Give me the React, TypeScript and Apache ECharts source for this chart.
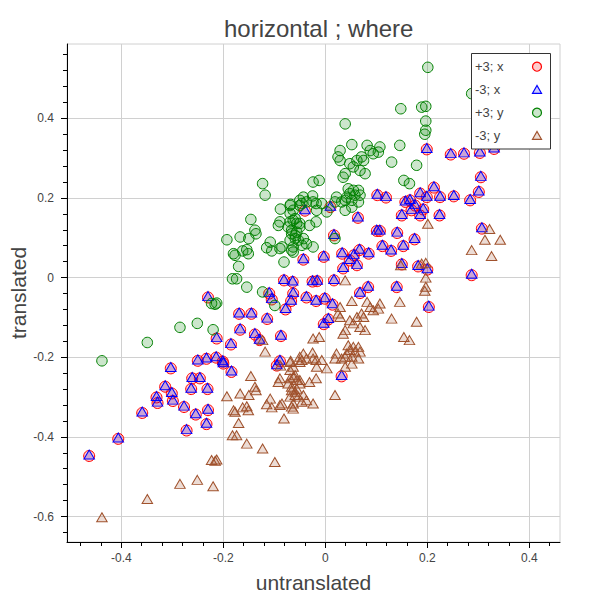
import React, { useEffect, useRef } from "react";
import * as echarts from "echarts";

const chartTitle = "horizontal ; where";
const xAxisName = "untranslated";
const yAxisName = "translated";
const seriesNames = ["+3; x", "-3; x", "+3; y", "-3; y"];

const xTickValues = [-0.4, -0.2, 0, 0.2, 0.4];
const xMinorTickValues = [-0.48, -0.44, -0.4, -0.36, -0.32, -0.28, -0.24, -0.2, -0.16, -0.12, -0.08, -0.04, 0, 0.04, 0.08, 0.12, 0.16, 0.2, 0.24, 0.28, 0.32, 0.36, 0.4, 0.44];
const yTickValues = [-0.6, -0.4, -0.2, 0, 0.2, 0.4];
const yMinorTickValues = [-0.64, -0.6, -0.56, -0.52, -0.48, -0.44, -0.4, -0.36, -0.32, -0.28, -0.24, -0.2, -0.16, -0.12, -0.08, -0.04, 0, 0.04, 0.08, 0.12, 0.16, 0.2, 0.24, 0.28, 0.32, 0.36, 0.4, 0.44, 0.48, 0.52, 0.56];

// shared by "+3; x" and "-3; x"
const xPoints = [
  [-0.463, -0.448], [-0.406, -0.405], [-0.359, -0.34], [-0.331, -0.301], [-0.329, -0.315],
  [-0.314, -0.274], [-0.303, -0.228], [-0.301, -0.291], [-0.299, -0.31], [-0.277, -0.325],
  [-0.272, -0.384], [-0.263, -0.28], [-0.261, -0.253], [-0.254, -0.344], [-0.246, -0.253],
  [-0.231, -0.28], [-0.23, -0.333], [-0.233, -0.368], [-0.25, -0.209], [-0.233, -0.204],
  [-0.214, -0.201], [-0.201, -0.211], [-0.2, -0.216], [-0.184, -0.237], [-0.23, -0.05],
  [-0.213, -0.153], [-0.185, -0.168], [-0.169, -0.091], [-0.145, -0.091], [-0.167, -0.131],
  [-0.138, -0.143], [-0.129, -0.157], [-0.114, -0.104], [-0.087, -0.147], [-0.089, -0.21],
  [-0.095, -0.221], [-0.078, -0.08], [-0.11, -0.04], [-0.105, -0.055], [-0.081, -0.007],
  [-0.064, -0.011], [-0.063, -0.04], [-0.067, -0.059], [-0.037, -0.05], [-0.025, -0.01],
  [-0.016, -0.009], [-0.018, -0.059], [-0.04, 0.168], [-0.043, 0.045], [-0.003, 0.052],
  [0.01, 0.177], [0.199, 0.322], [0.246, 0.309], [0.272, 0.311], [0.303, 0.313],
  [0.331, 0.323], [0.305, 0.252], [0.301, 0.215], [0.284, 0.194], [0.102, 0.207],
  [0.119, 0.201], [0.166, 0.194], [0.157, 0.19], [0.186, 0.211], [0.199, 0.202],
  [0.213, 0.226], [0.225, 0.202], [0.252, 0.204], [0.176, 0.181], [0.169, 0.169],
  [0.15, 0.156], [0.186, 0.156], [0.192, 0.171], [0.224, 0.156], [0.064, 0.15],
  [0.101, 0.117], [0.107, 0.117], [0.141, 0.112], [0.175, 0.096], [0.153, 0.079],
  [0.112, 0.079], [0.129, 0.067], [0.085, 0.06], [0.067, 0.069], [0.056, 0.056],
  [0.048, 0.043], [0.033, 0.06], [0.062, 0.031], [0.017, 0.106], [0.15, 0.033],
  [0.182, 0.028], [0.035, 0.023], [0.307, 0.123], [0.2, 0.02], [0.287, 0.006],
  [0.017, -0.007], [0.084, -0.024], [0.14, -0.024], [0.068, -0.039], [0.203, -0.074],
  [-0.001, -0.053], [0.014, -0.068], [0.006, -0.105], [-0.003, -0.117], [0.032, -0.248]
];

const plusYPoints = [
  [-0.438, -0.209], [-0.349, -0.163], [-0.285, -0.125], [-0.251, -0.115], [-0.22, -0.131],
  [-0.223, -0.065], [-0.216, -0.067], [-0.213, -0.064], [-0.182, -0.003], [-0.174, -0.003],
  [-0.154, -0.024], [-0.123, -0.036], [-0.099, -0.07], [-0.17, 0.028], [-0.081, 0.039],
  [-0.18, 0.06], [-0.177, 0.056], [-0.154, 0.07], [-0.151, 0.06], [-0.162, 0.067],
  [-0.108, 0.089], [-0.115, 0.075], [-0.105, 0.067], [-0.089, 0.073], [-0.193, 0.095],
  [-0.167, 0.102], [-0.15, 0.098], [-0.138, 0.119], [-0.136, 0.11], [-0.146, 0.146],
  [-0.123, 0.236], [-0.118, 0.207], [-0.088, 0.172], [-0.068, 0.184], [-0.05, 0.194],
  [-0.043, 0.202], [-0.046, 0.186], [-0.037, 0.19], [-0.025, 0.205], [-0.018, 0.186],
  [-0.012, 0.244], [-0.024, 0.24], [-0.069, 0.161], [-0.063, 0.144], [-0.073, 0.127],
  [-0.05, 0.136], [-0.056, 0.114], [-0.066, 0.11], [-0.069, 0.094], [-0.059, 0.098],
  [-0.046, 0.081], [-0.037, 0.085], [-0.063, 0.077], [-0.066, 0.069], [-0.085, 0.077],
  [-0.089, 0.14], [-0.092, 0.131], [-0.018, 0.14], [-0.024, 0.077], [-0.031, 0.131],
  [-0.069, 0.181], [-0.063, 0.169], [-0.059, 0.148], [-0.069, 0.14], [-0.056, 0.136],
  [-0.05, 0.127], [-0.066, 0.119], [-0.059, 0.106], [-0.053, 0.094], [-0.043, 0.098],
  [-0.063, 0.064], [-0.05, 0.181], [-0.024, 0.19], [-0.017, 0.169], [-0.007, 0.186],
  [0.003, 0.165], [0.052, 0.334], [0.029, 0.319], [0.025, 0.303], [0.029, 0.294],
  [0.082, 0.332], [0.088, 0.319], [0.094, 0.311], [0.107, 0.328], [0.104, 0.315],
  [0.146, 0.332], [0.13, 0.29], [0.179, 0.282], [0.048, 0.286], [0.062, 0.294],
  [0.071, 0.303], [0.075, 0.294], [0.055, 0.278], [0.068, 0.269], [0.078, 0.261],
  [0.039, 0.261], [0.035, 0.252], [0.154, 0.244], [0.165, 0.236], [0.045, 0.223],
  [0.055, 0.219], [0.065, 0.219], [0.048, 0.211], [0.058, 0.207], [0.042, 0.202],
  [0.068, 0.207], [0.052, 0.194], [0.039, 0.194], [0.065, 0.19], [0.022, 0.202],
  [0.019, 0.19], [0.032, 0.19], [0.039, 0.169], [0.052, 0.177], [0.019, 0.098],
  [0.201, 0.528], [0.148, 0.424], [0.189, 0.428], [0.197, 0.43], [0.197, 0.393],
  [0.197, 0.37], [0.195, 0.36], [0.039, 0.386], [0.322, 0.515], [0.313, 0.488],
  [0.343, 0.488], [0.287, 0.462], [0.326, 0.447]
];

const minusYPoints = [
  [-0.438, -0.602], [-0.349, -0.556], [-0.285, -0.518], [-0.251, -0.508], [-0.22, -0.524],
  [-0.223, -0.458], [-0.216, -0.46], [-0.213, -0.457], [-0.182, -0.396], [-0.174, -0.396],
  [-0.154, -0.417], [-0.123, -0.429], [-0.099, -0.463], [-0.17, -0.365], [-0.081, -0.354],
  [-0.18, -0.333], [-0.177, -0.337], [-0.154, -0.323], [-0.151, -0.333], [-0.162, -0.326],
  [-0.108, -0.304], [-0.115, -0.318], [-0.105, -0.326], [-0.089, -0.32], [-0.193, -0.298],
  [-0.167, -0.291], [-0.15, -0.295], [-0.138, -0.274], [-0.136, -0.283], [-0.146, -0.247],
  [-0.123, -0.157], [-0.118, -0.186], [-0.088, -0.221], [-0.068, -0.209], [-0.05, -0.199],
  [-0.043, -0.191], [-0.046, -0.207], [-0.037, -0.203], [-0.025, -0.188], [-0.018, -0.207],
  [-0.012, -0.149], [-0.024, -0.153], [-0.069, -0.232], [-0.063, -0.249], [-0.073, -0.266],
  [-0.05, -0.257], [-0.056, -0.279], [-0.066, -0.283], [-0.069, -0.299], [-0.059, -0.295],
  [-0.046, -0.312], [-0.037, -0.308], [-0.063, -0.316], [-0.066, -0.324], [-0.085, -0.316],
  [-0.089, -0.253], [-0.092, -0.262], [-0.018, -0.253], [-0.024, -0.316], [-0.031, -0.262],
  [-0.069, -0.212], [-0.063, -0.224], [-0.059, -0.245], [-0.069, -0.253], [-0.056, -0.257],
  [-0.05, -0.266], [-0.066, -0.274], [-0.059, -0.287], [-0.053, -0.299], [-0.043, -0.295],
  [-0.063, -0.329], [-0.05, -0.212], [-0.024, -0.203], [-0.017, -0.224], [-0.007, -0.207],
  [0.003, -0.228], [0.052, -0.059], [0.029, -0.074], [0.025, -0.09], [0.029, -0.099],
  [0.082, -0.061], [0.088, -0.074], [0.094, -0.082], [0.107, -0.065], [0.104, -0.078],
  [0.146, -0.061], [0.13, -0.103], [0.179, -0.111], [0.048, -0.107], [0.062, -0.099],
  [0.071, -0.09], [0.075, -0.099], [0.055, -0.115], [0.068, -0.124], [0.078, -0.132],
  [0.039, -0.132], [0.035, -0.141], [0.154, -0.149], [0.165, -0.157], [0.045, -0.17],
  [0.055, -0.174], [0.065, -0.174], [0.048, -0.182], [0.058, -0.186], [0.042, -0.191],
  [0.068, -0.186], [0.052, -0.199], [0.039, -0.199], [0.065, -0.203], [0.022, -0.191],
  [0.019, -0.203], [0.032, -0.203], [0.039, -0.224], [0.052, -0.216], [0.019, -0.295],
  [0.201, 0.135], [0.148, 0.031], [0.189, 0.035], [0.197, 0.037], [0.197, 0.0],
  [0.197, -0.023], [0.195, -0.033], [0.039, -0.007], [0.322, 0.122], [0.313, 0.095],
  [0.343, 0.095], [0.287, 0.069], [0.326, 0.054]
];

const FONT = '"Liberation Sans", Helvetica, Arial, sans-serif';
const TEXT = "#444444";

const X_MIN = -0.5065;
const X_MAX = 0.4602;
const Y_MIN = -0.664;
const Y_MAX = 0.5866;

const styles = [
  { symbol: "circle", size: 11, fill: "rgba(255,0,0,0.2)", stroke: "#ff0000" },
  { symbol: "triangle", size: [10.5, 9], fill: "rgba(0,0,255,0.2)", stroke: "#0000ff" },
  { symbol: "circle", size: 10.5, fill: "rgba(0,128,0,0.2)", stroke: "#008000" },
  { symbol: "triangle", size: [10.5, 9], fill: "rgba(160,82,45,0.2)", stroke: "#a0522d" },
];

export default function App() {
  const ref = useRef<HTMLDivElement>(null);

  useEffect(() => {
    document.body.style.margin = "0";
    if (!ref.current) return;
    const chart = echarts.init(ref.current, undefined, { renderer: "svg" });

    const datasets = [xPoints, xPoints, plusYPoints, minusYPoints];

    const rowY = [66.7, 89.7, 112.7, 135.7];
    const Z = 100;
    const legendChildren: any[] = [
      {
        type: "rect",
        z: Z,
        shape: { x: 471.5, y: 53.5, width: 79, height: 95.5 },
        style: { fill: "#ffffff", stroke: "#333333", lineWidth: 1 },
      },
    ];
    seriesNames.forEach((name, i) => {
      const st = styles[i];
      legendChildren.push({
        type: "text",
        z: Z + 1,
        style: {
          text: name,
          x: 475,
          y: rowY[i],
          fontSize: 13,
          fontFamily: FONT,
          fill: TEXT,
          align: "left",
          verticalAlign: "middle",
        },
      });
      if (st.symbol === "circle") {
        legendChildren.push({
          type: "circle",
          z: Z + 1,
          shape: { cx: 537, cy: rowY[i], r: 4.5 },
          style: { fill: st.fill, stroke: st.stroke, lineWidth: 1.2 },
        });
      } else {
        legendChildren.push({
          type: "polygon",
          z: Z + 1,
          shape: {
            points: [
              [532.5, rowY[i] + 3.6],
              [541.5, rowY[i] + 3.6],
              [537, rowY[i] - 4.2],
            ],
          },
          style: { fill: st.fill, stroke: st.stroke, lineWidth: 1.2 },
        });
      }
    });

    const axisLabelStyle = { color: TEXT, fontSize: 12, fontFamily: FONT };

    const option: any = {
      animation: false,
      backgroundColor: "#ffffff",
      title: {
        text: chartTitle,
        left: 313.7,
        top: 11,
        textAlign: "center",
        textStyle: { fontSize: 24, fontWeight: "normal", color: TEXT, fontFamily: FONT },
      },
      grid: {
        left: 67,
        right: 40,
        top: 44,
        bottom: 58,
        show: true,
        borderColor: "#d0d0d0",
        borderWidth: 1,
        backgroundColor: "transparent",
        containLabel: false,
        outerBoundsMode: "none",
      },
      xAxis: [
        {
          type: "value",
          min: X_MIN,
          max: X_MAX,
          position: "bottom",
          name: xAxisName,
          nameLocation: "middle",
          nameGap: 30,
          nameTextStyle: { fontSize: 21, color: TEXT, fontFamily: FONT },
          axisLine: { show: true, onZero: false, lineStyle: { color: "#000000", width: 1 } },
          axisTick: { show: true, customValues: xTickValues, length: 6, lineStyle: { color: "#000000" } },
          axisLabel: { customValues: xTickValues, margin: 10, ...axisLabelStyle },
          splitLine: { show: true, lineStyle: { color: "#d0d0d0", width: 1 } },
        },
        {
          type: "value",
          min: X_MIN,
          max: X_MAX,
          position: "bottom",
          axisLine: { show: false, onZero: false },
          axisTick: { show: true, customValues: xMinorTickValues, length: 4, lineStyle: { color: "#000000" } },
          axisLabel: { show: false },
          splitLine: { show: false },
        },
      ],
      yAxis: [
        {
          type: "value",
          min: Y_MIN,
          max: Y_MAX,
          position: "left",
          name: yAxisName,
          nameLocation: "middle",
          nameGap: 38,
          nameMoveOverlap: false,
          nameTextStyle: { fontSize: 21, color: TEXT, fontFamily: FONT },
          axisLine: { show: true, onZero: false, lineStyle: { color: "#000000", width: 1 } },
          axisTick: { show: true, customValues: yTickValues, length: 6, lineStyle: { color: "#000000" } },
          axisLabel: { customValues: yTickValues, margin: 13, ...axisLabelStyle },
          splitLine: { show: true, lineStyle: { color: "#d0d0d0", width: 1 } },
        },
        {
          type: "value",
          min: Y_MIN,
          max: Y_MAX,
          position: "left",
          axisLine: { show: false, onZero: false },
          axisTick: { show: true, customValues: yMinorTickValues, length: 4, lineStyle: { color: "#000000" } },
          axisLabel: { show: false },
          splitLine: { show: false },
        },
      ],
      series: seriesNames.map((name, i) => ({
        name,
        type: "scatter",
        xAxisIndex: 0,
        yAxisIndex: 0,
        data: datasets[i],
        symbol: styles[i].symbol,
        symbolSize: styles[i].size,
        symbolOffset: i === 1 ? [0, -1.4] : [0, 0],
        itemStyle: {
          color: styles[i].fill,
          borderColor: styles[i].stroke,
          borderWidth: 1,
          opacity: 1,
        },
        emphasis: { disabled: true },
        z: 2 + i,
      })),
      graphic: [{ type: "group", z: Z, children: legendChildren }],
    };

    chart.setOption(option);
    return () => chart.dispose();
  }, []);

  return <div ref={ref} style={{ width: 600, height: 600 }} />;
}
